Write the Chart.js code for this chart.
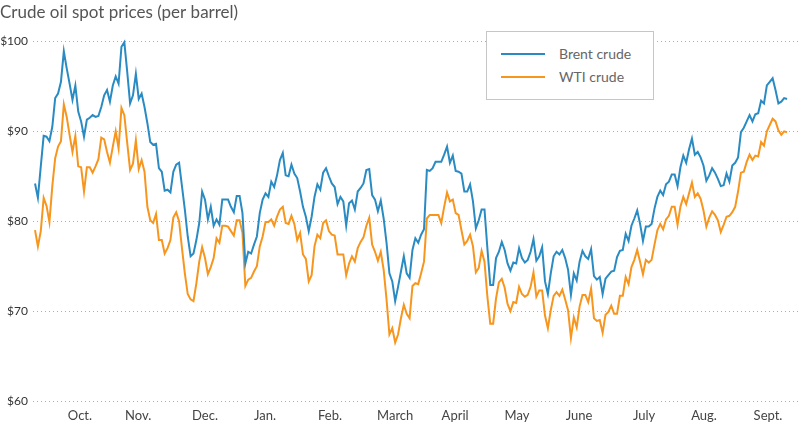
<!DOCTYPE html>
<html>
<head>
<meta charset="utf-8">
<script src="https://cdn.jsdelivr.net/npm/chart.js@4"></script>
<style>
  body { margin: 0; background: #fff; }
  #wrap { position: relative; width: 800px; height: 424px; }
  #legend {
    position: absolute; left: 486px; top: 31px; width: 166px; height: 67px;
    border: 1px solid #c6c6c6; background: #fff; font-family: Lato, sans-serif;
    font-size: 14px; color: #666;
  }
  .item { position: absolute; left: 14px; height: 16px; line-height: 16px; }
  .item span.sw { position: absolute; left: 0; top: 7px; width: 44px; height: 2px; }
  .item span.tx { position: absolute; left: 58px; top: 0; white-space: nowrap; }
</style>
</head>
<body>
<div id="wrap">
  <canvas id="chart"></canvas>
  <div id="legend"></div>
</div>
<script>
// trading-day series
const brent = [
  84.2, 82.6, 86.1, 89.5, 89.4, 88.9, 90.5, 93.7, 94.2, 95.5,
  98.9, 97.0, 95.3, 93.5, 95.1, 92.2, 91.1, 89.4, 91.3, 91.5,
  91.8, 91.6, 91.7, 92.7, 94.0, 94.6, 93.3, 95.1, 96.1, 95.3,
  99.4, 99.9, 96.6, 93.1, 94.0, 96.4, 93.6, 94.2, 92.7, 90.9,
  88.8, 88.5, 88.6, 85.9, 85.5, 83.4, 83.5, 83.2, 85.5, 86.3,
  86.5, 83.9, 81.3, 78.3, 76.1, 76.4, 77.9, 79.8, 83.3, 82.4,
  80.2, 81.6, 79.5, 80.2, 79.6,
  82.4, 82.4, 82.4, 81.6, 81.0, 82.8, 82.8, 80.9, 75.3, 76.6,
  76.4, 77.4, 78.3, 80.9, 82.4, 83.1, 82.7, 84.4, 83.8, 85.1,
  86.8, 87.6, 85.1, 85.0, 86.3, 85.3, 84.8, 83.3, 81.6, 80.5,
  78.9, 80.5, 82.7, 84.1, 83.5, 85.4, 85.9, 85.0, 84.2, 83.8,
  81.9, 82.7, 82.2, 79.5, 82.0, 82.3, 81.3, 83.3, 83.7, 84.2,
  85.7, 85.8, 82.9, 82.4, 81.1, 82.3, 80.3, 77.6, 74.2, 73.3,
  71.1, 72.7, 74.4,
  76.1, 74.2, 73.7, 76.8, 78.1, 77.6, 78.5, 79.1, 85.7, 85.6,
  85.9, 86.6, 86.6, 86.6, 87.4, 88.3, 86.5, 87.3, 85.6, 85.5,
  85.3, 83.3, 83.3, 84.1, 82.2, 79.2, 80.1, 81.3, 81.3, 77.0,
  72.9, 72.9, 75.9, 76.6, 77.7, 76.8, 75.3, 74.5, 75.4, 75.3,
  77.0, 75.9, 75.4, 75.7, 76.6, 78.0, 75.6, 76.1, 77.1, 73.3,
  71.9, 74.2, 76.1, 76.6, 76.3, 76.8, 75.9, 74.6, 71.8, 74.2,
  73.4, 75.5, 76.7, 76.1, 75.8, 76.9, 73.9, 73.5, 73.8,
  71.9, 73.6, 74.0, 74.4, 74.5, 76.0, 76.7, 76.8, 78.6, 77.8,
  79.5, 80.3, 81.2, 79.7, 77.8, 79.4, 79.4, 79.7, 81.4, 82.7,
  83.4, 82.9, 84.1, 84.4, 85.2, 85.2, 83.9, 86.0, 87.3, 86.5,
  88.0, 89.2, 87.4, 87.7, 87.1, 86.2, 84.5, 85.1, 85.9, 85.4,
  84.7, 83.9, 84.0, 85.3, 84.4, 86.2, 86.5, 87.1, 89.9, 90.4,
  91.1, 91.8, 91.1, 91.9, 92.0, 93.4, 93.1, 95.1, 95.5, 95.9,
  94.6, 93.1, 93.3, 93.7, 93.6
]

const wti = [
  79.0, 77.2, 78.9, 82.6, 81.7, 79.9, 83.9, 87.0, 88.3, 88.9,
  93.0, 91.6, 89.6, 87.7, 89.5, 86.1, 86.0, 83.3, 86.0, 86.0,
  85.4, 86.1, 86.9, 89.3, 89.1, 87.7, 86.5, 88.3, 90.0, 88.1,
  92.6, 91.8, 88.7, 85.7, 86.4, 89.0, 85.8, 86.8, 85.5, 81.6,
  80.1, 79.8, 80.8, 77.9, 77.9, 76.4, 77.0, 77.9, 80.4, 81.0,
  80.0, 77.0, 74.2, 71.9, 71.3, 71.1, 73.1, 75.5, 77.1, 75.9,
  74.1, 74.9, 75.9, 78.1, 77.6,
  79.5, 79.5, 79.4, 78.9, 78.4, 80.1, 80.1, 78.7, 72.8, 73.5,
  73.7, 74.4, 75.0, 77.2, 78.3, 79.9, 79.9, 80.2, 79.5, 80.5,
  81.3, 81.6, 79.8, 79.7, 80.6, 79.7, 77.9, 78.7, 76.3, 75.8,
  73.3, 74.0, 77.2, 78.5, 78.1, 79.8, 80.1, 78.9, 78.5, 78.4,
  76.3, 76.3, 76.3, 74.0, 75.3, 76.1, 75.5, 77.0, 77.7, 78.2,
  79.5, 80.4, 77.4, 76.6, 75.6, 76.6, 74.6, 71.3, 67.4, 68.1,
  66.5, 67.4, 69.2,
  70.7, 69.7, 69.2, 72.8, 73.1, 73.0, 74.2, 75.5, 80.3, 80.7,
  80.7, 80.7, 80.7, 79.8, 81.6, 83.2, 82.2, 82.4, 80.9, 80.7,
  79.0, 77.4, 77.8, 78.5, 77.2, 74.3, 74.8, 76.7, 75.5, 71.6,
  68.6, 68.6, 71.4, 73.2, 73.6, 72.6, 70.8, 70.0, 71.0, 70.9,
  72.7, 71.9, 71.6, 71.8, 72.7, 74.3, 71.6, 72.3, 72.3, 69.5,
  68.1, 70.1, 71.7, 72.1, 71.7, 72.4, 71.3, 70.1, 67.0, 69.3,
  68.2, 70.5, 71.8, 71.8, 71.0, 72.5, 69.2, 68.9, 69.0,
  67.6, 69.6, 69.9, 70.6, 69.7, 69.7, 71.7, 71.7, 73.8, 73.0,
  74.9, 75.7, 76.8, 75.5, 74.1, 75.7, 75.4, 75.7, 77.4, 79.0,
  79.7, 79.1, 80.2, 80.6, 81.6, 81.6, 79.6, 81.6, 82.7, 81.9,
  83.1, 84.3, 82.7, 83.1, 82.5, 81.2, 79.4, 80.4, 81.1, 80.7,
  80.1, 78.8, 79.6, 80.5, 80.6, 81.0, 81.6, 83.3, 85.4, 85.5,
  86.6, 87.4, 86.8, 87.3, 87.2, 88.8, 88.4, 90.0, 90.7, 91.4,
  91.1, 90.1, 89.6, 90.0, 89.9
]

// month labels sit at these trading-day positions
const monthTicks = [15.6, 35.8, 59.0, 79.8, 102.4, 125, 145.8, 167.3, 188.8, 211.4, 232.2, 254.4]
const monthLabels = ["Oct.", "Nov.", "Dec.", "Jan.", "Feb.", "March", "April", "May", "June", "July", "Aug.", "Sept."]
const priceTicks = [60, 70, 80, 90, 100]

const seriesNames = ["Brent crude", "WTI crude"]
const seriesColors = ["#2a8bc3", "#f7961e"]

function points(arr) {
  return arr.map((v, i) => ({ x: i, y: v }))
}

const font = "Lato, 'Open Sans', sans-serif"

const config = {
  type: "line",
  data: {
    datasets: [brent, wti].map((arr, i) => ({
      label: seriesNames[i],
      data: points(arr),
      borderColor: seriesColors[i],
      backgroundColor: seriesColors[i],
      borderWidth: 2,
      pointRadius: 0,
      tension: 0,
      clip: false
    }))
  },
  options: {
    responsive: true,
    maintainAspectRatio: false,
    animation: false,
    layout: { padding: 0 },
    plugins: {
      legend: { display: false },
      tooltip: { enabled: false },
      title: {
        display: true,
        align: "start",
        text: "Crude oil spot prices (per barrel)",
        color: "#555",
        font: { family: font, size: 17, weight: "normal" },
        padding: { top: 2, bottom: 19 }
      }
    },
    scales: {
      x: {
        type: "linear",
        min: -0.7,
        max: 265.5,
        grid: { display: false, drawTicks: false },
        border: { display: false },
        afterBuildTicks: (axis) => {
          axis.ticks = monthTicks.map(v => ({ value: v }))
        },
        afterFit: (axis) => {
          axis.height = 23
        },
        ticks: {
          autoSkip: false,
          maxRotation: 0,
          padding: 7,
          color: "#444",
          font: { family: font, size: 13 },
          callback: (v) => monthLabels[monthTicks.indexOf(v)]
        }
      },
      y: {
        min: 60,
        max: 100,
        afterBuildTicks: (axis) => {
          axis.ticks = priceTicks.map(v => ({ value: v }))
        },
        afterFit: (axis) => {
          axis.width = 33
        },
        grid: {
          color: "rgba(165, 165, 165, 0.9)",
          lineWidth: 1,
          drawTicks: false
        },
        // dotted horizontal grid lines
        border: { display: false, dash: [1, 3] },
        ticks: {
          padding: 5,
          color: "#333",
          font: { family: font, size: 12 },
          callback: (v) => "$" + v
        }
      }
    }
  }
}

const chart = new Chart(document.getElementById("chart"), config)

// legend box built from the datasets
const legend = document.getElementById("legend")
chart.data.datasets.forEach((ds, i) => {
  const item = document.createElement("div")
  item.className = "item"
  item.style.top = (14 + i * 23) + "px"
  item.innerHTML = '<span class="sw" style="background:' + ds.borderColor + '"></span><span class="tx">' + ds.label + "</span>"
  legend.appendChild(item)
})
</script>
</body>
</html>
